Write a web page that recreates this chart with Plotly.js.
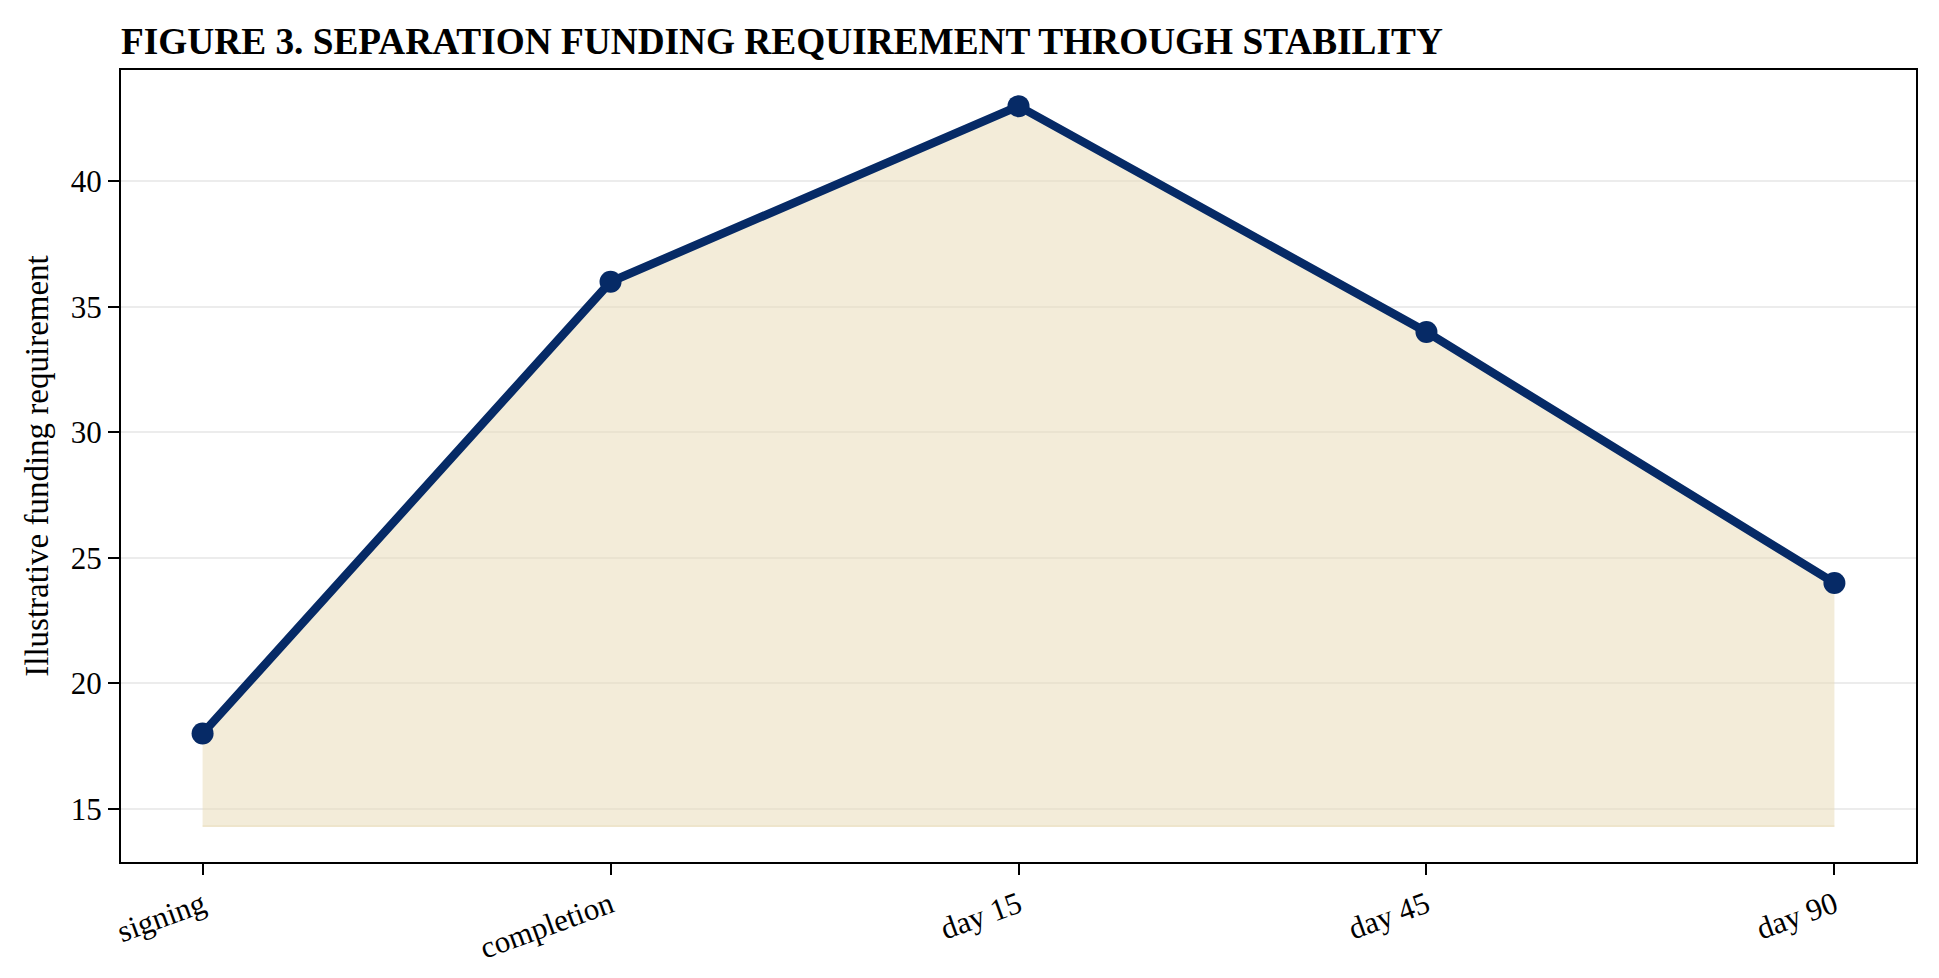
<!DOCTYPE html>
<html>
<head>
<meta charset="utf-8">
<script src="https://cdn.plot.ly/plotly-3.0.1.min.js"></script>
<style>
  html, body { margin: 0; padding: 0; background: #fff; }
  #chart { width: 1939px; height: 978px; }
</style>
</head>
<body>
<div id="chart"></div>
<script>
const stages = ["signing", "completion", "day 15", "day 45", "day 90"];
const requirement = [18, 36, 43, 34, 24];
const fillBase = [14.3, 14.3, 14.3, 14.3, 14.3];

const navy = "#062a66";
const serif = "Liberation Serif, Times New Roman, serif";

const data = [
  // baseline for the shaded area
  {
    x: stages,
    y: fillBase,
    type: "scatter",
    mode: "lines",
    line: { width: 1.5, color: "rgba(225,205,155,0.45)" },
    hoverinfo: "skip",
    showlegend: false,
  },
  {
    x: stages,
    y: requirement,
    type: "scatter",
    mode: "lines",
    fill: "tonexty",
    fillcolor: "rgba(232,218,180,0.5)",
    line: { width: 2, color: "rgba(225,205,155,0.45)" },
    hoverinfo: "skip",
    showlegend: false,
  },
  {
    name: "Funding requirement",
    x: stages,
    y: requirement,
    type: "scatter",
    mode: "lines+markers",
    line: { color: navy, width: 8.5 },
    marker: { color: navy, size: 22 },
    showlegend: false,
  },
];

const layout = {
  width: 1939,
  height: 978,
  paper_bgcolor: "#fff",
  plot_bgcolor: "#fff",
  margin: { l: 121, r: 23, t: 70, b: 116 },
  font: { family: serif, size: 31, color: "#000" },
  title: {
    text: "<b>FIGURE 3. SEPARATION FUNDING REQUIREMENT THROUGH STABILITY</b>",
    font: { family: serif, size: 37.3, color: "#000" },
    xref: "container",
    x: 121 / 1939,
    xanchor: "left",
    yref: "container",
    y: 1 - 54 / 978,
    yanchor: "bottom",
  },
  xaxis: {
    type: "category",
    range: [-0.2, 4.2],
    showgrid: false,
    zeroline: false,
    showline: true,
    mirror: true,
    linecolor: "#000",
    linewidth: 2,
    ticks: "outside",
    ticklen: 11,
    tickwidth: 2,
    tickcolor: "#000",
    tickangle: -20,
    tickfont: { family: serif, size: 31 },
  },
  yaxis: {
    range: [12.88, 44.44],
    tickvals: [15, 20, 25, 30, 35, 40],
    showgrid: true,
    gridcolor: "#ececec",
    gridwidth: 2,
    zeroline: false,
    showline: true,
    mirror: true,
    linecolor: "#000",
    linewidth: 2,
    ticks: "outside",
    ticklen: 11,
    tickwidth: 2,
    tickcolor: "#000",
    tickfont: { family: serif, size: 31 },
    title: {
      text: "Illustrative funding requirement",
      font: { family: serif, size: 33 },
      standoff: 12,
    },
  },
};

Plotly.newPlot("chart", data, layout, { displayModeBar: false });
</script>
</body>
</html>
